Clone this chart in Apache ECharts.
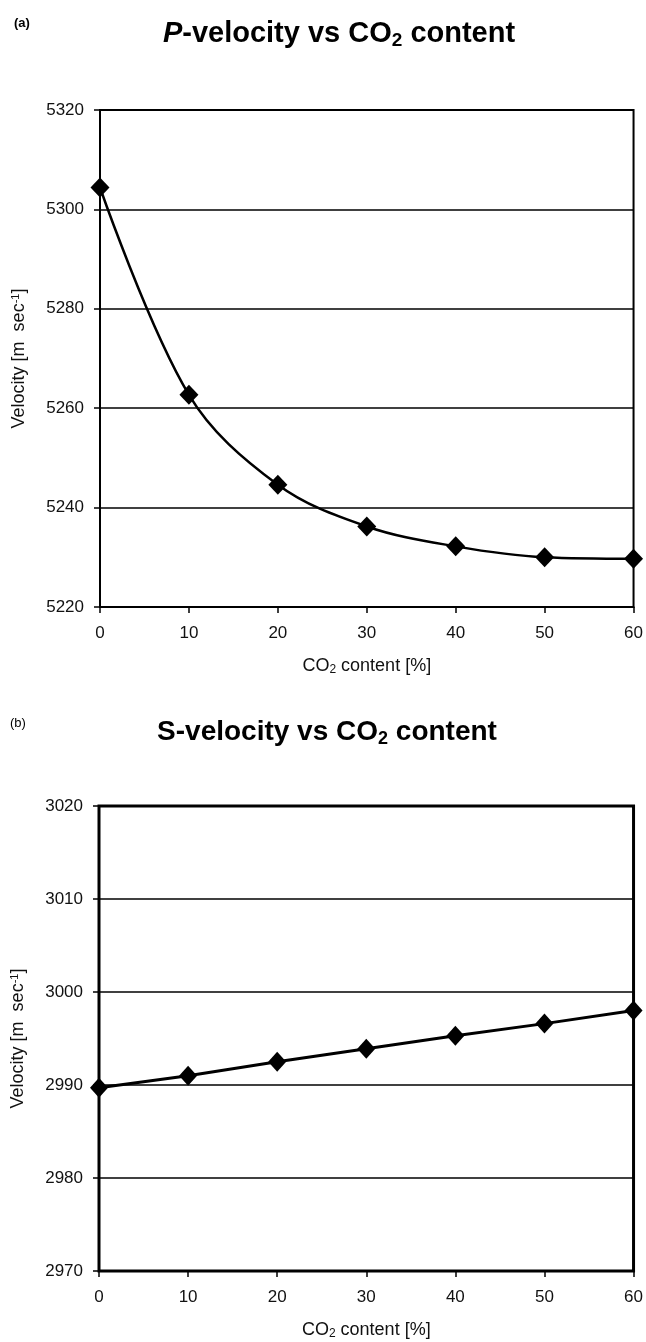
<!DOCTYPE html>
<html>
<head>
<meta charset="utf-8">
<script src="https://cdn.jsdelivr.net/npm/echarts@6/dist/echarts.min.js"></script>
<style>
html,body{margin:0;padding:0;background:#fff;}
#chart{width:646px;height:1342px;}
</style>
</head>
<body>
<div id="chart"></div>
<script>
// CO2 content [%]
var co2 = [0, 10, 20, 30, 40, 50, 60];
// P-velocity [m/s]
var pVel = [5304.4, 5262.7, 5244.6, 5236.2, 5232.2, 5230.0, 5229.7];
// S-velocity [m/s]
var sVel = [2989.7, 2991.0, 2992.5, 2993.9, 2995.3, 2996.6, 2998.0];

function pairs(xs, ys){
	var out = [];
	for(var i = 0; i < xs.length; i++){
		out.push([xs[i], ys[i]]);
	}
	return out;
}

var font = 'Liberation Sans, Arial, sans-serif';
var txt = '#111';

var nameRich = {
	a:{fontSize:18,color:txt,fontFamily:font},
	sup:{fontSize:11,color:txt,fontFamily:font,verticalAlign:'top',padding:[0,0,7,0]},
	sub:{fontSize:12,color:txt,fontFamily:font,verticalAlign:'bottom',padding:[7,0,0,0]}
};
function titleRich(fs){
	return {
		i:{fontSize:fs,fontWeight:'bold',fontStyle:'italic',color:'#000',fontFamily:font},
		b:{fontSize:fs,fontWeight:'bold',color:'#000',fontFamily:font},
		s:{fontSize:Math.round(fs*0.66),fontWeight:'bold',color:'#000',fontFamily:font,verticalAlign:'bottom',padding:[13,0,0,0]}
	};
}

function xAx(idx){
	return {
		type:'value', gridIndex:idx, min:0, max:60, interval:10,
		name:'{a|CO}{sub|2}{a| content [%]}',
		nameLocation:'middle', nameGap:50,
		nameTextStyle:{rich:nameRich},
		axisLine:{show:true,lineStyle:{color:'#000',width:2}},
		axisTick:{show:true,length:6,lineStyle:{color:'#000',width:1.5}},
		axisLabel:{fontSize:17,color:txt,fontFamily:font,margin:18},
		splitLine:{show:false}
	};
}
function yAx(idx, min, max, step){
	return {
		type:'value', gridIndex:idx, min:min, max:max, interval:step,
		name:'{a|Velocity [m  sec}{sup|-1}{a|]}',
		nameLocation:'middle', nameGap:72,
		nameTextStyle:{rich:nameRich},
		axisLine:{show:true,lineStyle:{color:'#000',width:2}},
		axisTick:{show:true,length:6,lineStyle:{color:'#000',width:1.5}},
		axisLabel:{fontSize:17,color:txt,fontFamily:font,margin:16,formatter:function(v){return String(v);}},
		splitLine:{show:true,lineStyle:{color:'#000',width:1.6}}
	};
}

var myChart = echarts.init(document.getElementById('chart'));
var option = {
	backgroundColor:'#fff',
	animation:false,
	title:[
		{text:'(a)',left:9,top:12,textStyle:{fontSize:13,fontWeight:'bold',color:'#000',fontFamily:font}},
		{text:'{i|P}{b|-velocity vs CO}{s|2}{b| content}',left:334,top:13,textAlign:'center',textStyle:{rich:titleRich(29)}},
		{text:'(b)',left:5,top:712,textStyle:{fontSize:13,fontWeight:'normal',color:'#000',fontFamily:font}},
		{text:'{b|S-velocity vs CO}{s|2}{b| content}',left:322,top:712,textAlign:'center',textStyle:{rich:titleRich(28)}}
	],
	grid:[
		{left:100,top:110,width:536,height:497,show:true,borderColor:'#000',borderWidth:2,backgroundColor:'transparent'},
		{left:99,top:806,width:537,height:465,show:true,borderColor:'#000',borderWidth:3,backgroundColor:'transparent'}
	],
	xAxis:[xAx(0), xAx(1)],
	yAxis:[yAx(0,5220,5320,20), yAx(1,2970,3020,10)],
	series:[
		{
			type:'line', xAxisIndex:0, yAxisIndex:0,
			data:pairs(co2,pVel),
			smooth:0.35,
			symbol:'diamond', symbolSize:[19,20],
			itemStyle:{color:'#000'},
			lineStyle:{color:'#000',width:2.5}
		},
		{
			type:'line', xAxisIndex:1, yAxisIndex:1,
			data:pairs(co2,sVel),
			smooth:false,
			symbol:'diamond', symbolSize:[18,20],
			itemStyle:{color:'#000'},
			lineStyle:{color:'#000',width:3}
		}
	]
};
myChart.setOption(option);
</script>
</body>
</html>
